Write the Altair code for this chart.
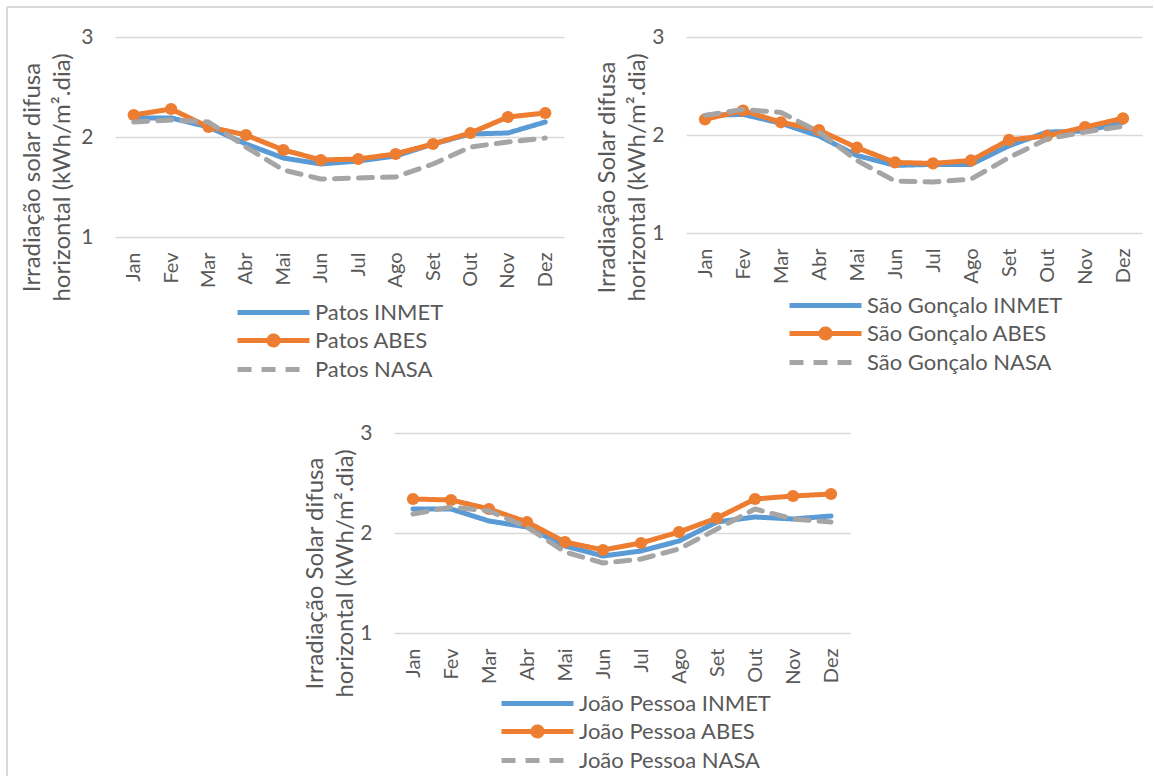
import altair as alt
import pandas as pd

# Months on the category axis
MESES = ["Jan", "Fev", "Mar", "Abr", "Mai", "Jun", "Jul", "Ago", "Set", "Out", "Nov", "Dez"]

# Diffuse horizontal irradiation (kWh/m².dia), per station and source
PATOS_INMET = [2.19, 2.19, 2.10, 1.93, 1.79, 1.73, 1.76, 1.81, 1.93, 2.03, 2.04, 2.15]
PATOS_ABES = [2.22, 2.28, 2.10, 2.02, 1.87, 1.77, 1.78, 1.83, 1.93, 2.04, 2.20, 2.24]
PATOS_NASA = [2.15, 2.17, 2.15, 1.90, 1.67, 1.58, 1.59, 1.60, 1.73, 1.90, 1.95, 1.99]

SG_INMET = [2.20, 2.21, 2.12, 1.99, 1.79, 1.69, 1.70, 1.70, 1.89, 2.03, 2.04, 2.13]
SG_ABES = [2.16, 2.25, 2.13, 2.05, 1.87, 1.72, 1.71, 1.74, 1.95, 1.99, 2.08, 2.17]
SG_NASA = [2.20, 2.26, 2.23, 2.03, 1.74, 1.53, 1.52, 1.55, 1.77, 1.96, 2.03, 2.09]

JP_INMET = [2.24, 2.24, 2.12, 2.06, 1.87, 1.77, 1.82, 1.92, 2.11, 2.16, 2.14, 2.17]
JP_ABES = [2.34, 2.33, 2.24, 2.11, 1.91, 1.83, 1.90, 2.01, 2.15, 2.34, 2.37, 2.39]
JP_NASA = [2.19, 2.26, 2.22, 2.06, 1.81, 1.70, 1.74, 1.84, 2.04, 2.24, 2.14, 2.11]

Y_TICKS = [1, 2, 3]

AZUL, LARANJA, CINZA = "#5B9BD5", "#ED7D31", "#A5A5A5"
TEXTO = "#595959"
GRADE = "#D9D9D9"
FONTE = "Lato"

# Legend glyphs: a plain stroke, and a stroke with a solid dot in the middle
LINHA = "M-3.6,0H3.6"
PONTO = (LINHA
         + "M-0.45,0a0.45,0.45 0 1,0 0.9,0a0.45,0.45 0 1,0 -0.9,0"
         + "M-0.2,0a0.2,0.2 0 1,0 0.4,0a0.2,0.2 0 1,0 -0.4,0")


def painel(local, inmet, abes, nasa, titulo, largura, altura,
           leg_x, leg_y, titulo_x, extras=()):
    nomes = [f"{local} INMET", f"{local} ABES", f"{local} NASA"]
    df = pd.DataFrame({
        "mes": MESES * 3,
        "valor": inmet + abes + nasa,
        "serie": [nomes[0]] * 12 + [nomes[1]] * 12 + [nomes[2]] * 12,
    })

    legenda = alt.Legend(
        title=None, orient="none", legendX=leg_x, legendY=leg_y, padding=0,
        symbolType={"expr": f"indexof(datum.value, 'ABES') >= 0 ? '{PONTO}' : '{LINHA}'"},
        symbolSize=400, symbolStrokeWidth=5, symbolOpacity=1,
        labelFont=FONTE, labelFontSize=22, labelColor=TEXTO, labelLimit=0,
        labelOffset=29, rowPadding=2,
    )
    cor = alt.Color("serie:N", scale=alt.Scale(domain=nomes, range=[AZUL, LARANJA, CINZA]),
                    legend=legenda)
    traco = alt.StrokeDash("serie:N",
                           scale=alt.Scale(domain=nomes, range=[[1, 0], [1, 0], [14, 10]]),
                           legend=legenda)

    x = alt.X("mes:O", sort=MESES, scale=alt.Scale(padding=0.5),
              axis=alt.Axis(title=None, labelAngle=270, labelFont=FONTE, labelFontSize=20,
                            labelColor=TEXTO, labelPadding=15, ticks=False, domain=False,
                            grid=False))
    y = alt.Y("valor:Q", scale=alt.Scale(domain=[1, 3], nice=False, zero=False),
              axis=alt.Axis(values=Y_TICKS, labelExpr="format(datum.value, '.0f')",
                            title=titulo, titleFont=FONTE,
                            titleFontSize=24, titleFontWeight="normal", titleColor=TEXTO,
                            titleAngle=270, titleAlign="center", titleBaseline="top",
                            titleLineHeight=30, titleX=titulo_x, titleY=140,
                            labelFont=FONTE, labelFontSize=21, labelColor=TEXTO,
                            labelPadding=22, labelOverlap=False, ticks=False, domain=False,
                            gridColor=GRADE, gridWidth=1.5))

    base = alt.Chart(df).encode(x=x, y=y)

    def linha(nome):
        return (base.transform_filter(alt.datum.serie == nome)
                .mark_line(strokeWidth=5, strokeCap="round", strokeJoin="round")
                .encode(color=cor, strokeDash=traco))

    pontos = (base.transform_filter(alt.datum.serie == nomes[1])
              .mark_circle(size=150, opacity=1, color=LARANJA))

    camadas = [linha(nomes[0]), linha(nomes[1]), pontos, linha(nomes[2])] + list(extras)
    return alt.layer(*camadas).properties(width=largura, height=altura)


# Light frame around the whole figure (top and left edges)
moldura = pd.DataFrame({"k": [0]})
borda_topo = alt.Chart(moldura).mark_rule(color=GRADE, strokeWidth=2).encode(
    x=alt.value(-108), x2=alt.value(1038), y=alt.value(-30))
borda_esq = alt.Chart(moldura).mark_rule(color=GRADE, strokeWidth=2).encode(
    x=alt.value(-108), y=alt.value(-30), y2=alt.value(739))

p1 = painel("Patos", PATOS_INMET, PATOS_ABES, PATOS_NASA,
            ["Irradiação solar difusa", "horizontal (kWh/m².dia)"],
            449, 200, 146, 263, -95, extras=(borda_topo, borda_esq))
p2 = painel("São Gonçalo", SG_INMET, SG_ABES, SG_NASA,
            ["Irradiação Solar difusa", "horizontal (kWh/m².dia)"],
            456, 196, 127, 256, -91)
p3 = painel("João Pessoa", JP_INMET, JP_ABES, JP_NASA,
            ["Irradiação Solar difusa", "horizontal (kWh/m².dia)"],
            456, 200, 131, 258, -91)

espaco = alt.Chart(moldura).mark_point(opacity=0).encode(
    x=alt.value(0), y=alt.value(0)).properties(width=1, height=200)

independente = dict(color="independent", strokeDash="independent")

topo = alt.hconcat(p1, p2, spacing=122, bounds="flush").resolve_scale(**independente)
baixo = alt.hconcat(espaco, p3, spacing=278, bounds="flush").resolve_scale(**independente)

chart = (alt.vconcat(topo, baixo, spacing=396, bounds="flush")
         .resolve_scale(**independente)
         .properties(padding={"left": 6, "top": 6, "right": 0, "bottom": 0},
                     background="white")
         .configure_view(stroke=None))

chart.save("out.html", embed_options={"renderer": "svg", "actions": False})
